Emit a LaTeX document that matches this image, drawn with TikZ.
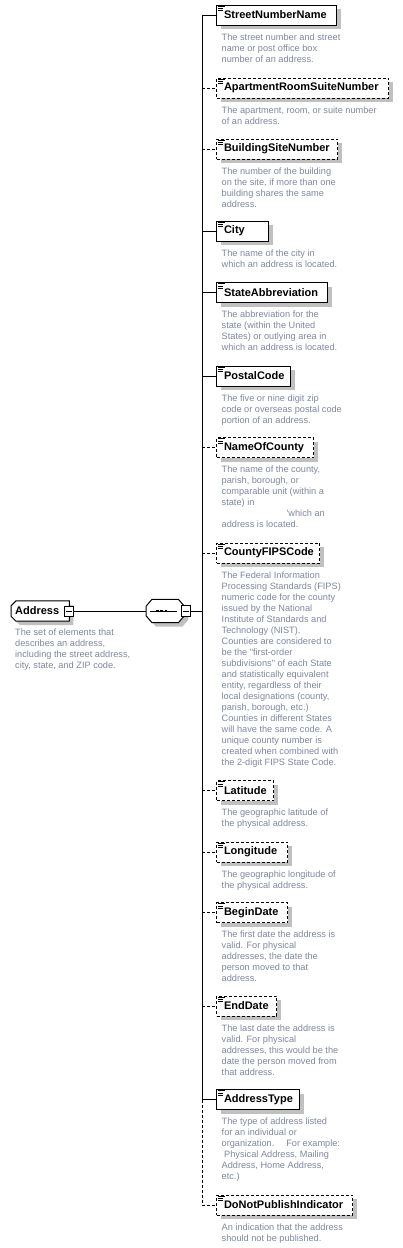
\documentclass[tikz,border=0pt]{standalone}
\usepackage{fontspec}
\newfontfamily\lsans{Liberation Sans}
\usetikzlibrary{shadows}
\definecolor{desccol}{RGB}{125,135,160}
\definecolor{shadowgray}{RGB}{192,192,192}
\tikzset{
  namefont/.style={font=\lsans\bfseries\fontsize{11}{13}\selectfont},
  elembox/.style={draw, fill=white, line width=1pt, minimum height=20pt, inner xsep=7.5pt, inner ysep=0pt,
    namefont, anchor=west, align=left,
    drop shadow={shadow xshift=4pt, shadow yshift=-4pt, fill=shadowgray, opacity=1, draw=none}},
  opt/.style={dash pattern=on 3pt off 2pt},
  desc/.style={anchor=north west, inner sep=0pt, align=left, text=desccol,
    font=\lsans\fontsize{9.2}{11}\selectfont},
  conn/.style={line width=1pt},
  icon/.style={line width=0.8pt},
  minusbox/.style={draw, fill=white, line width=1pt, minimum width=9pt, minimum height=11pt, inner sep=0pt},
}
\newcommand\xelem[6]{%
  \node[elembox,#4,text width=#3pt-15pt] (#1) at (216,#2) {#5};
  \draw[icon] ([shift={(2,1.8)}]#1.north west) -- ++(7,0)
              ([shift={(2,4)}]#1.north west) -- ++(5,0)
              ([shift={(2,6.2)}]#1.north west) -- ++(5,0);
  \node[desc] (#1d) at ([shift={(5.5,8)}]#1.south west) {#6};
}
\newcommand\addrpath[2]{([shift={(#2+5,#2)}]#1.north west) -- ([shift={(#2,#2)}]#1.north east)
  -- ([shift={(#2,#2)}]#1.south east) -- ([shift={(#2+5,#2)}]#1.south west)
  -- ([shift={(#2,#2-5)}]#1.south west) -- ([shift={(#2,#2+5)}]#1.north west) -- cycle}
\newcommand\seqpath[2]{([shift={(#2+6,#2)}]#1.north west) -- ([shift={(#2-6,#2)}]#1.north east)
  -- ([shift={(#2,#2+7)}]#1.north east) -- ([shift={(#2,#2-7)}]#1.south east)
  -- ([shift={(#2-6,#2)}]#1.south east) -- ([shift={(#2+6,#2)}]#1.south west)
  -- ([shift={(#2,#2-7)}]#1.south west) -- ([shift={(#2,#2+7)}]#1.north west) -- cycle}
\begin{document}
\begin{tikzpicture}[x=1pt,y=-1pt]
\useasboundingbox (0,0) rectangle (402,1248);

% Address element
\node[inner sep=0pt, minimum width=58pt, minimum height=20pt, anchor=west] (addr) at (11,611) {};
\fill[shadowgray] \addrpath{addr}{4};
\draw[line width=1pt, fill=white] \addrpath{addr}{0};
\node[namefont, anchor=west, inner sep=0pt] (addrl) at (15,611) {Address};
\node[minusbox, minimum height=10pt] (addrm) at (addr.east) {};
\draw[line width=1pt] ([xshift=2pt]addrm.west) -- ([xshift=-2pt]addrm.east);
\node[desc] (addrd) at (15,629) {The set of elements that\\describes an address,\\including the street address,\\city, state, and ZIP code.};

% Sequence compositor
\node[inner sep=0pt, minimum width=38pt, minimum height=23pt, anchor=west] (seq) at (146,611) {};
\fill[shadowgray] \seqpath{seq}{4};
\draw[line width=1pt, fill=white] \seqpath{seq}{0};
\draw[conn] ([xshift=4pt]seq.west) -- ([xshift=-7pt]seq.east);
\foreach \dx in {11.2,15.6,20} \fill ([xshift=\dx pt]seq.west) ++(-1.3,-1.3) rectangle ++(2.6,2.6);
\node[minusbox] (seqm) at ([xshift=1.5pt]seq.east) {};
\draw[line width=1pt] ([xshift=2pt]seqm.west) -- ([xshift=-2pt]seqm.east);

% Children
\xelem{snn}{15}{120}{solid}{StreetNumberName}{The street number and street\\name or post office box\\number of an address.}
\xelem{arsn}{88}{172}{opt}{ApartmentRoomSuiteNumber}{The apartment, room, or suite number\\of an address.}
\xelem{bsn}{149}{121}{opt}{BuildingSiteNumber}{The number of the building\\on the site, if more than one\\building shares the same\\address.}
\xelem{city}{231}{52}{solid}{City}{The name of the city in\\which an address is located.}
\xelem{sa}{292.5}{111}{solid}{StateAbbreviation}{The abbreviation for the\\state (within the United\\States) or outlying area in\\which an address is located.}
\xelem{pc}{376}{74}{solid}{PostalCode}{The five or nine digit zip\\code or overseas postal code\\portion of an address.}
\xelem{noc}{447.5}{97}{opt}{NameOfCounty}{The name of the county,\\parish, borough, or\\comparable unit (within a\\state) in\\\hspace*{65pt}'which an\\address is located.}
\xelem{cfc}{553}{103}{opt}{CountyFIPSCode}{The Federal Information\\Processing Standards (FIPS)\\numeric code for the county\\issued by the National\\Institute of Standards and\\Technology (NIST).\\Counties are considered to\\be the "first-order\\subdivisions" of each State\\and statistically equivalent\\entity, regardless of their\\local designations (county,\\parish, borough, etc.)\\Counties in different States\\will have the same code. A\\unique county number is\\created when combined with\\the 2-digit FIPS State Code.}
\xelem{lat}{790.5}{57}{opt}{Latitude}{The geographic latitude of\\the physical address.}
\xelem{lon}{852}{71}{opt}{Longitude}{The geographic longitude of\\the physical address.}
\xelem{bd}{912.5}{71}{opt}{BeginDate}{The first date the address is\\valid. For physical\\addresses, the date the\\person moved to that\\address.}
\xelem{ed}{1006}{60}{opt}{EndDate}{The last date the address is\\valid. For physical\\addresses, this would be the\\date the person moved from\\that address.}
\xelem{at}{1099.5}{83}{solid}{AddressType}{The type of address listed\\for an individual or\\organization.\hspace{12pt}For example:\\\hspace*{2.5pt}Physical Address, Mailing\\Address, Home Address,\\etc.)}
\xelem{dnp}{1205}{136}{opt}{DoNotPublishIndicator}{An indication that the address\\should not be published.}

% Connectors
\coordinate (bus) at (202,611);
\draw[conn] (addrm.east) -- (seq.west);
\draw[conn] (seqm.east) -- (bus);
\draw[conn] (bus |- snn.west) -- (bus |- at.west);
\draw[conn,opt] (bus |- at.west) -- (bus |- dnp.west) -- (dnp.west);
\foreach \n in {snn,city,sa,pc,at} \draw[conn] (bus |- \n.west) -- (\n.west);
\foreach \n in {arsn,bsn,noc,cfc,lat,lon,bd,ed} \draw[conn,opt] (bus |- \n.west) -- (\n.west);
\end{tikzpicture}
\end{document}
